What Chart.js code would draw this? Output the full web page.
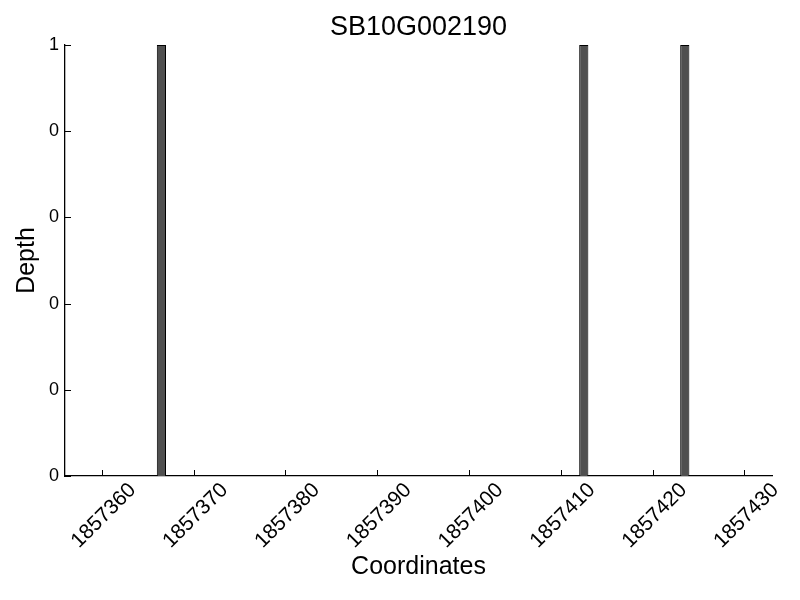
<!DOCTYPE html>
<html><head><meta charset="utf-8">
<script src="https://cdn.jsdelivr.net/npm/chart.js@4"></script>
<style>html,body{margin:0;padding:0;background:#fff}</style>
</head><body>
<canvas id="c" width="800" height="600"></canvas>
<script>
const chartTitle = 'SB10G002190';
const coordinates = [1857366, 1857412, 1857423];
const depths = [1, 1, 1];
const xTickValues = [1857360, 1857370, 1857380, 1857390, 1857400, 1857410, 1857420, 1857430];
const xRange = [1857356, 1857433];
const yRange = [0, 1];
const yStep = 0.2;

const FONT = "'Liberation Sans', Arial, Helvetica, sans-serif";

const inwardTicks = {
  id: 'inwardTicks',
  afterDatasetsDraw(chart) {
    const ctx = chart.ctx, a = chart.chartArea;
    const xs = chart.scales.x, ys = chart.scales.y;
    ctx.save();
    ctx.strokeStyle = '#000';
    ctx.lineWidth = 1;
    xs.ticks.forEach(t => {
      const px = Math.round(xs.getPixelForValue(t.value)) + 0.5;
      ctx.beginPath(); ctx.moveTo(px, a.bottom); ctx.lineTo(px, a.bottom - 6); ctx.stroke();
    });
    ys.ticks.forEach(t => {
      const py = Math.round(ys.getPixelForValue(t.value)) + 0.5;
      ctx.beginPath(); ctx.moveTo(a.left, py); ctx.lineTo(a.left + 6, py); ctx.stroke();
    });
    // title centred over the plotting area
    ctx.fillStyle = '#000';
    ctx.font = "27px " + FONT;
    ctx.textAlign = 'center';
    ctx.textBaseline = 'middle';
    ctx.fillText(chartTitle, (a.left + a.right) / 2, 28);
    ctx.restore();
  }
};

new Chart(document.getElementById('c'), {
  type: 'bar',
  data: {
    datasets: [{
      data: coordinates.map((c, i) => ({ x: c + 0.5, y: depths[i] })),
      backgroundColor: '#505050',
      borderColor: '#000000',
      borderWidth: 1,
      barPercentage: 0.1,
      categoryPercentage: 1
    }]
  },
  options: {
    responsive: false,
    animation: false,
    devicePixelRatio: 1,
    layout: { padding: { left: 0, right: 28, top: 45, bottom: 0 } },
    plugins: {
      legend: { display: false },
      tooltip: { enabled: false },
      title: { display: false }
    },
    scales: {
      x: {
        type: 'linear', min: xRange[0], max: xRange[1], offset: false,
        grid: { display: false, drawTicks: false, offset: false },
        border: { display: true, color: '#000', width: 1.3 },
        afterBuildTicks: s => { s.ticks = xTickValues.map(v => ({ value: v })); },
        afterFit: s => { s.height = 124; },
        ticks: {
          color: '#000', font: { family: FONT, size: 21 },
          minRotation: 45, maxRotation: 45, autoSkip: false,
          padding: 2, labelOffset: 31,
          callback: v => String(v)
        },
        title: { display: true, text: 'Coordinates', color: '#000',
          font: { family: FONT, size: 25 }, padding: { top: 0, bottom: 18 } }
      },
      y: {
        min: yRange[0], max: yRange[1],
        grid: { display: false, drawTicks: false },
        border: { display: true, color: '#000', width: 1.3 },
        afterFit: s => { s.width = 65; },
        ticks: {
          stepSize: yStep, color: '#000', font: { family: FONT, size: 18 }, padding: 6,
          callback: v => String(Math.trunc(Math.round(v * 1e6) / 1e6))
        },
        title: { display: true, text: 'Depth', color: '#000',
          font: { family: FONT, size: 25 }, padding: { top: 12, bottom: 0 } }
      }
    }
  },
  plugins: [inwardTicks]
});
</script>
</body></html>
